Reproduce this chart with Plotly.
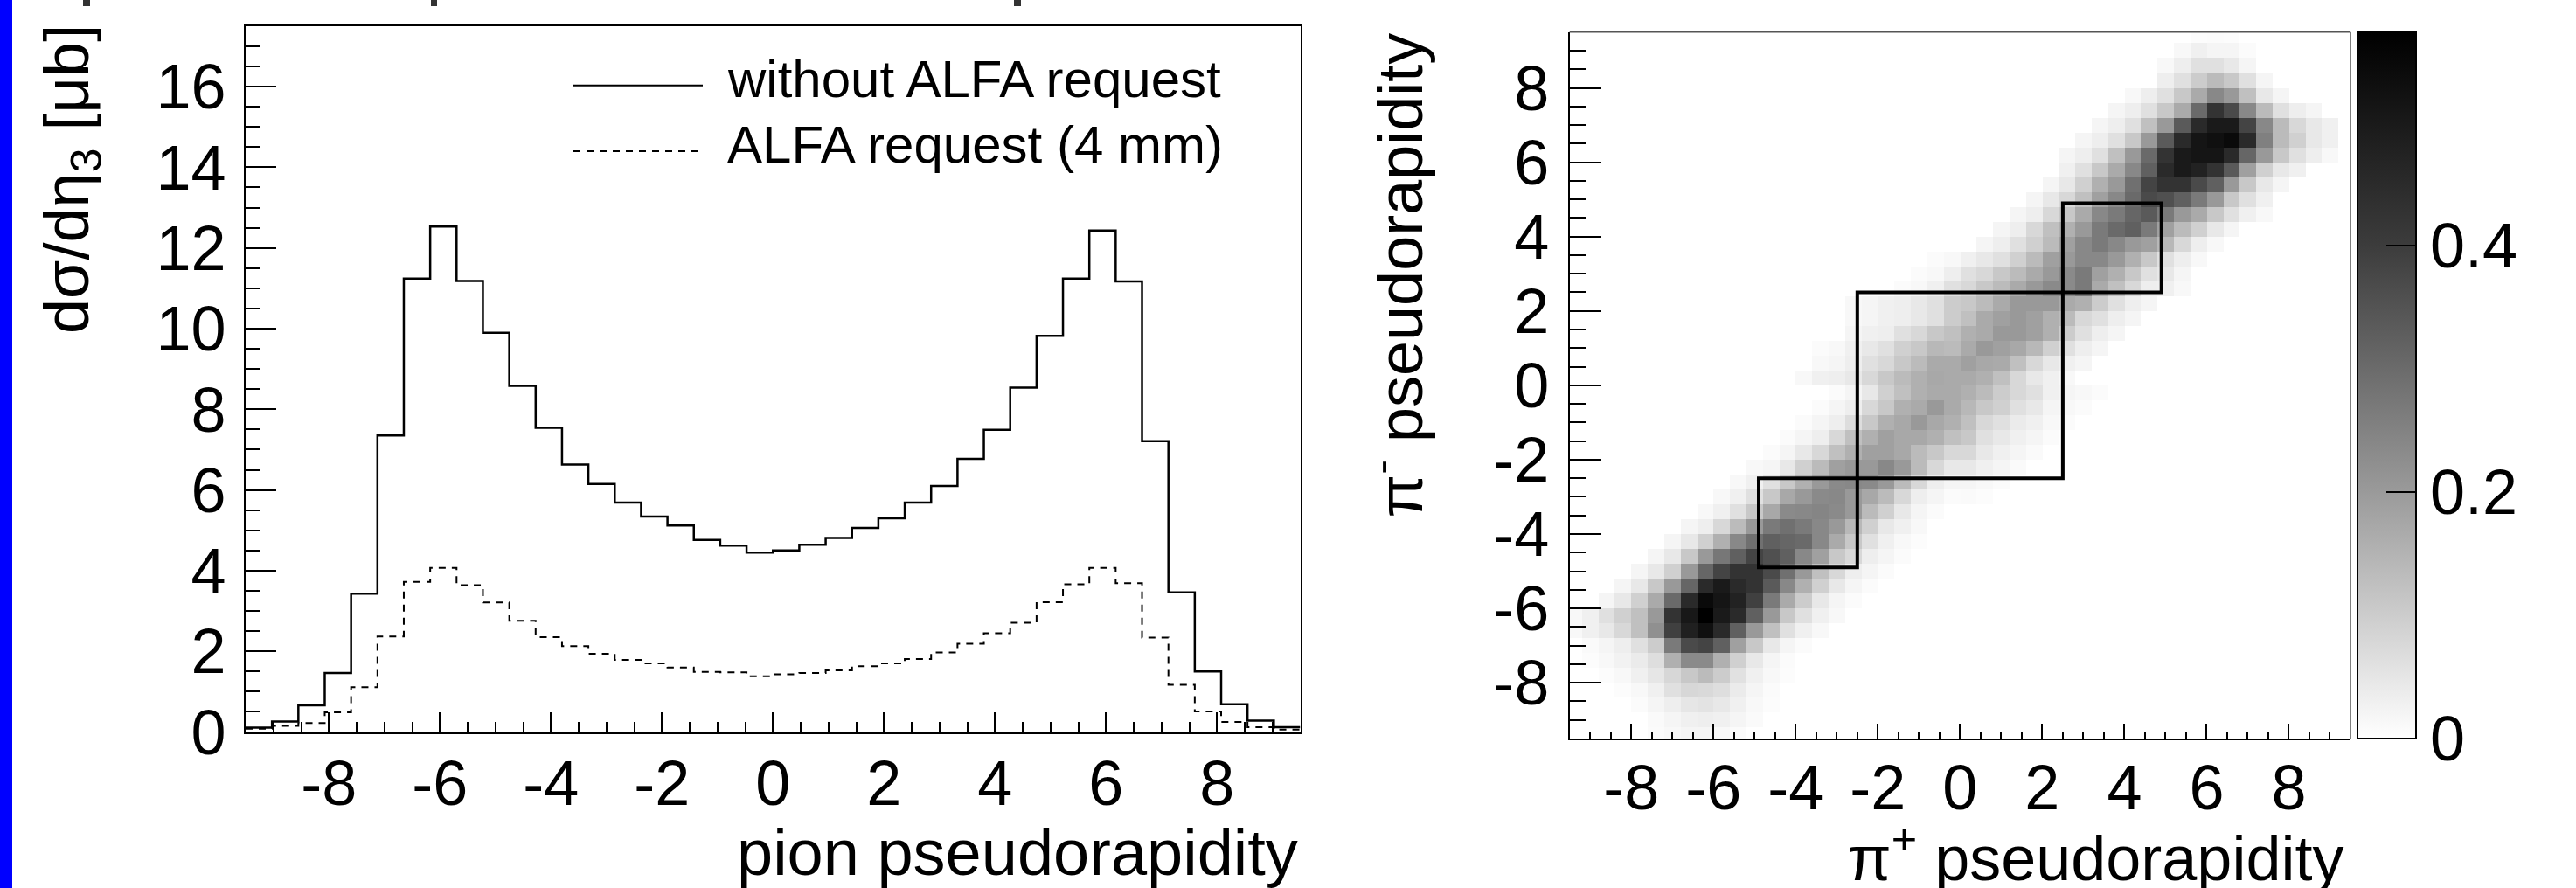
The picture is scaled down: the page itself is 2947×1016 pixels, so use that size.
import numpy as np
import plotly.graph_objects as go

W, H = 2947, 1016
FONT = "Liberation Sans, Arial, Helvetica, sans-serif"

# ---------------- left panel data: d(sigma)/d(eta) histograms ----------------
hist_edges = np.linspace(-9.5, 9.5, 41)          # 40 bins
xsec_without_alfa = [0.11, 0.26, 0.66, 1.46, 3.43, 7.35, 11.24, 12.53, 11.18, 9.90,
                     8.58, 7.54, 6.63, 6.15, 5.69, 5.34, 5.12, 4.76, 4.62, 4.45,
                     4.50, 4.64, 4.81, 5.06, 5.30, 5.69, 6.10, 6.77, 7.49, 8.54,
                     9.82, 11.24, 12.43, 11.17, 7.21, 3.46, 1.50, 0.69, 0.28, 0.12]
xsec_alfa_4mm = [0.08, 0.15, 0.22, 0.49, 1.11, 2.37, 3.72, 4.07, 3.64, 3.21,
                 2.76, 2.35, 2.13, 1.94, 1.79, 1.70, 1.60, 1.49, 1.48, 1.38,
                 1.43, 1.46, 1.53, 1.63, 1.70, 1.81, 1.97, 2.19, 2.45, 2.71,
                 3.22, 3.66, 4.07, 3.69, 2.34, 1.17, 0.51, 0.25, 0.12, 0.06]
legend_labels = ["without ALFA request", "ALFA request (4 mm)"]
x_ticks = [-8, -6, -4, -2, 0, 2, 4, 6, 8]
y_ticks_left = [0, 2, 4, 6, 8, 10, 12, 14, 16]

# ---------------- right panel data: 2D pi+ / pi- pseudorapidity ----------------
heat_edges = np.linspace(-9.6, 9.6, 49)          # 48 x 48 visible cells
# each row (pi- bin, bottom to top): (first pi+ bin index)
heat_rows = [
    (5, [0.008, 0.014, 0.02, 0.02, 0.014, 0.008]),
    (5, [0.01, 0.02, 0.03, 0.034, 0.03, 0.02, 0.01]),
    (4, [0.008, 0.02, 0.034, 0.05, 0.055, 0.046, 0.03, 0.014, 0.006]),
    (3, [0.006, 0.014, 0.03, 0.061, 0.08, 0.075, 0.065, 0.04, 0.02, 0.008]),
    (2, [0.006, 0.014, 0.03, 0.05, 0.08, 0.109, 0.135, 0.10, 0.06, 0.03, 0.014, 0.006]),
    (1, [0.006, 0.014, 0.025, 0.04, 0.065, 0.156, 0.234, 0.234, 0.156, 0.093, 0.046, 0.02, 0.008]),
    (1, [0.01, 0.02, 0.034, 0.061, 0.10, 0.268, 0.370, 0.383, 0.323, 0.188, 0.109, 0.046, 0.02, 0.008]),
    (0, [0.014, 0.03, 0.046, 0.077, 0.125, 0.221, 0.391, 0.481, 0.527, 0.452, 0.323, 0.202, 0.125, 0.061, 0.03, 0.014]),
    (0, [0.014, 0.03, 0.061, 0.093, 0.125, 0.202, 0.426, 0.504, 0.573, 0.498, 0.452, 0.323, 0.202, 0.109, 0.061, 0.03, 0.014]),
    (2, [0.02, 0.046, 0.093, 0.168, 0.302, 0.452, 0.544, 0.512, 0.475, 0.391, 0.268, 0.168, 0.10, 0.046, 0.02, 0.008]),
    (3, [0.02, 0.046, 0.109, 0.202, 0.311, 0.452, 0.498, 0.452, 0.426, 0.336, 0.238, 0.156, 0.093, 0.046, 0.02, 0.008]),
    (4, [0.02, 0.046, 0.093, 0.202, 0.311, 0.383, 0.426, 0.426, 0.370, 0.289, 0.202, 0.125, 0.077, 0.034, 0.02, 0.008]),
    (5, [0.02, 0.046, 0.109, 0.202, 0.274, 0.323, 0.383, 0.357, 0.323, 0.238, 0.188, 0.109, 0.077, 0.034, 0.02, 0.008]),
    (6, [0.02, 0.046, 0.093, 0.156, 0.238, 0.289, 0.323, 0.311, 0.302, 0.238, 0.168, 0.109, 0.061, 0.03, 0.014, 0.006]),
    (7, [0.02, 0.034, 0.077, 0.135, 0.202, 0.268, 0.289, 0.268, 0.238, 0.202, 0.141, 0.093, 0.046, 0.03, 0.014]),
    (8, [0.014, 0.03, 0.061, 0.109, 0.172, 0.234, 0.238, 0.245, 0.234, 0.202, 0.135, 0.093, 0.046, 0.02, 0.008]),
    (9, [0.014, 0.03, 0.061, 0.109, 0.172, 0.202, 0.234, 0.238, 0.202, 0.172, 0.135, 0.077, 0.034, 0.02, 0.008, 0.01, 0.006]),
    (10, [0.014, 0.03, 0.061, 0.109, 0.156, 0.202, 0.234, 0.238, 0.234, 0.202, 0.135, 0.077, 0.034, 0.02, 0.02, 0.014, 0.008]),
    (11, [0.014, 0.02, 0.046, 0.093, 0.135, 0.188, 0.202, 0.202, 0.238, 0.202, 0.135, 0.077, 0.046, 0.046, 0.03, 0.02, 0.01]),
    (12, [0.008, 0.02, 0.046, 0.077, 0.125, 0.156, 0.188, 0.188, 0.172, 0.135, 0.109, 0.077, 0.077, 0.046, 0.03, 0.02, 0.01]),
    (13, [0.008, 0.02, 0.034, 0.077, 0.125, 0.156, 0.188, 0.172, 0.172, 0.156, 0.125, 0.109, 0.061, 0.046, 0.03, 0.02, 0.008]),
    (14, [0.008, 0.02, 0.034, 0.067, 0.109, 0.156, 0.172, 0.202, 0.172, 0.156, 0.125, 0.077, 0.061, 0.04, 0.03, 0.014, 0.008]),
    (15, [0.008, 0.02, 0.034, 0.077, 0.109, 0.156, 0.168, 0.202, 0.168, 0.141, 0.109, 0.093, 0.061, 0.046, 0.02, 0.014, 0.008]),
    (16, [0.008, 0.02, 0.046, 0.093, 0.125, 0.156, 0.168, 0.168, 0.156, 0.135, 0.10, 0.077, 0.061, 0.03, 0.02, 0.014, 0.008]),
    (14, [0.014, 0.03, 0.034, 0.046, 0.077, 0.109, 0.135, 0.156, 0.172, 0.168, 0.168, 0.156, 0.125, 0.077, 0.046, 0.03, 0.014]),
    (15, [0.014, 0.02, 0.034, 0.061, 0.077, 0.109, 0.135, 0.168, 0.168, 0.188, 0.172, 0.168, 0.125, 0.077, 0.046, 0.03, 0.02]),
    (15, [0.008, 0.014, 0.03, 0.046, 0.061, 0.093, 0.109, 0.141, 0.135, 0.168, 0.202, 0.188, 0.172, 0.141, 0.093, 0.061, 0.034, 0.02]),
    (17, [0.02, 0.03, 0.034, 0.061, 0.077, 0.109, 0.125, 0.156, 0.168, 0.202, 0.202, 0.188, 0.156, 0.10, 0.061, 0.034, 0.02]),
    (17, [0.014, 0.02, 0.03, 0.034, 0.046, 0.061, 0.10, 0.125, 0.168, 0.188, 0.202, 0.188, 0.156, 0.135, 0.077, 0.061, 0.034, 0.02]),
    (17, [0.014, 0.02, 0.03, 0.034, 0.046, 0.061, 0.10, 0.109, 0.135, 0.168, 0.202, 0.202, 0.202, 0.168, 0.156, 0.10, 0.061, 0.034, 0.02]),
    (20, [0.008, 0.014, 0.03, 0.061, 0.077, 0.109, 0.135, 0.168, 0.202, 0.234, 0.234, 0.268, 0.168, 0.125, 0.077, 0.034, 0.03, 0.014]),
    (21, [0.008, 0.014, 0.034, 0.061, 0.077, 0.109, 0.135, 0.168, 0.202, 0.234, 0.268, 0.188, 0.156, 0.109, 0.061, 0.046, 0.02]),
    (22, [0.008, 0.014, 0.03, 0.046, 0.061, 0.093, 0.135, 0.188, 0.202, 0.238, 0.238, 0.202, 0.156, 0.109, 0.061, 0.034, 0.014]),
    (25, [0.02, 0.034, 0.061, 0.093, 0.135, 0.188, 0.238, 0.268, 0.238, 0.202, 0.188, 0.141, 0.077, 0.034, 0.014]),
    (26, [0.02, 0.034, 0.077, 0.125, 0.156, 0.202, 0.268, 0.302, 0.323, 0.268, 0.188, 0.135, 0.093, 0.046, 0.02]),
    (27, [0.02, 0.034, 0.077, 0.109, 0.168, 0.238, 0.268, 0.311, 0.336, 0.268, 0.202, 0.168, 0.109, 0.061, 0.03, 0.014]),
    (28, [0.02, 0.046, 0.077, 0.125, 0.188, 0.238, 0.302, 0.370, 0.357, 0.323, 0.268, 0.202, 0.109, 0.061, 0.03]),
    (29, [0.02, 0.046, 0.093, 0.156, 0.202, 0.289, 0.383, 0.426, 0.426, 0.370, 0.323, 0.202, 0.109, 0.046, 0.02]),
    (30, [0.03, 0.061, 0.109, 0.168, 0.238, 0.323, 0.452, 0.498, 0.475, 0.426, 0.336, 0.188, 0.093, 0.046, 0.03]),
    (30, [0.02, 0.034, 0.061, 0.125, 0.202, 0.302, 0.426, 0.498, 0.512, 0.512, 0.452, 0.311, 0.202, 0.109, 0.061, 0.034, 0.014]),
    (31, [0.02, 0.034, 0.061, 0.109, 0.202, 0.336, 0.452, 0.512, 0.527, 0.544, 0.452, 0.255, 0.135, 0.093, 0.046, 0.03]),
    (32, [0.02, 0.034, 0.061, 0.125, 0.202, 0.336, 0.452, 0.498, 0.498, 0.383, 0.238, 0.135, 0.077, 0.046, 0.03]),
    (33, [0.02, 0.034, 0.061, 0.109, 0.168, 0.302, 0.426, 0.370, 0.238, 0.135, 0.061, 0.034, 0.02]),
    (34, [0.014, 0.034, 0.061, 0.109, 0.168, 0.238, 0.202, 0.125, 0.046, 0.02]),
    (36, [0.034, 0.061, 0.10, 0.135, 0.109, 0.061, 0.02]),
    (36, [0.014, 0.034, 0.061, 0.061, 0.046, 0.02]),
    (37, [0.014, 0.03, 0.02, 0.02, 0.008]),
    (38, [0.006, 0.008, 0.006]),
]
acceptance_lo = [-4.9, -2.5, 2.5]      # detector regions drawn as squares
acceptance_hi = [-2.5, 2.5, 4.9]
z_max = 0.573
colorbar_ticks = [0, 0.2, 0.4]

# ---------------- build ----------------
n = len(heat_edges) - 1
Z = np.zeros((n, n))
for j, (start, vals) in enumerate(heat_rows):
    Z[j, start:start + len(vals)] = vals
centers = 0.5 * (heat_edges[:-1] + heat_edges[1:])


def px(x):
    return x / W


def py(y):
    return 1 - y / H


def tick_text(v):
    return str(v)


fig = go.Figure()

step_x = list(hist_edges)
fig.add_trace(go.Scatter(x=step_x, y=xsec_without_alfa + [xsec_without_alfa[-1]],
                         mode="lines", line=dict(shape="hv", color="black", width=2.5),
                         xaxis="x", yaxis="y", showlegend=False, name=legend_labels[0]))
fig.add_trace(go.Scatter(x=step_x, y=xsec_alfa_4mm + [xsec_alfa_4mm[-1]],
                         mode="lines", line=dict(shape="hv", color="black", width=2, dash="8px,7px"),
                         xaxis="x", yaxis="y", showlegend=False, name=legend_labels[1]))

gray_scale = [[0, "#ffffff"], [0.349, "#9a9a9a"], [0.698, "#3c3c3c"], [1, "#000000"]]
fig.add_trace(go.Heatmap(
    x=centers, y=centers, z=Z, zmin=0, zmax=z_max, colorscale=gray_scale, zsmooth=False,
    xaxis="x2", yaxis="y2",
    colorbar=dict(
        x=px(2697), xanchor="left", xref="paper", xpad=0,
        y=py(845), yanchor="bottom", yref="paper", ypad=0,
        len=(845 - 36.7) / H, lenmode="fraction",
        thickness=67, thicknessmode="pixels",
        outlinewidth=2, outlinecolor="black",
        tickmode="array", tickvals=colorbar_ticks, ticktext=[tick_text(v) for v in colorbar_ticks],
        ticks="inside", ticklen=35, tickwidth=2, tickcolor="black",
        tickfont=dict(size=72, family=FONT, color="black"),
    ),
))

# detector acceptance squares
for lo, hi in zip(acceptance_lo, acceptance_hi):
    fig.add_shape(type="rect", xref="x2", yref="y2", x0=lo, x1=hi, y0=lo, y1=hi,
                  line=dict(color="black", width=4), fillcolor="rgba(0,0,0,0)")

minor_vals = [v / 2 for v in range(-19, 20)]
axis_common = dict(showline=True, mirror=True, linecolor="black", linewidth=2, automargin=False,
                   showgrid=False, zeroline=False, ticks="inside", tickwidth=2, tickcolor="black",
                   tickfont=dict(size=72, family=FONT, color="black"), tickmode="array")

fig.update_layout(
    width=W, height=H, margin=dict(l=0, r=0, t=0, b=0, pad=0, autoexpand=False),
    paper_bgcolor="white", plot_bgcolor="white",
    font=dict(family=FONT, color="black"),
    xaxis=dict(axis_common, domain=[px(281), px(1487.5)], range=[-9.5, 9.5], anchor="y",
               tickvals=x_ticks, ticktext=[tick_text(v) for v in x_ticks], ticklen=23,
               ticklabelstandoff=-5,
               minor=dict(ticks="inside", ticklen=12, tickwidth=2, tickcolor="black",
                          tickmode="array", tickvals=minor_vals)),
    yaxis=dict(axis_common, domain=[py(837.5), py(29.9)], range=[0, 17.5], anchor="x",
               tickvals=y_ticks_left, ticktext=[tick_text(v) for v in y_ticks_left], ticklen=35,
               ticklabelstandoff=6,
               minor=dict(ticks="inside", ticklen=17, tickwidth=2, tickcolor="black",
                          tickmode="array", tickvals=[v / 2 for v in range(0, 36)])),
    xaxis2=dict(axis_common, domain=[px(1795.7), px(2689)], range=[-9.5, 9.5], anchor="y2",
                mirror=False,
                tickvals=x_ticks, ticktext=[tick_text(v) for v in x_ticks], ticklen=17,
                ticklabelstandoff=-7,
                minor=dict(ticks="inside", ticklen=8, tickwidth=2, tickcolor="black",
                           tickmode="array", tickvals=minor_vals)),
    yaxis2=dict(axis_common, domain=[py(845), py(36.7)], range=[-9.5, 9.5], anchor="x2",
                mirror=False,
                tickvals=x_ticks, ticktext=[tick_text(v) for v in x_ticks], ticklen=36,
                ticklabelstandoff=7,
                minor=dict(ticks="inside", ticklen=18, tickwidth=2, tickcolor="black",
                           tickmode="array", tickvals=minor_vals)),
)

# thin top / right frame of the 2D panel (ROOT frame)
fig.add_shape(type="line", xref="paper", yref="paper", x0=px(1795.7), x1=px(2689),
              y0=py(36.7), y1=py(36.7), line=dict(color="#555555", width=1.5))
fig.add_shape(type="line", xref="paper", yref="paper", x0=px(2689), x1=px(2689),
              y0=py(36.7), y1=py(845), line=dict(color="#555555", width=1.5))

# legend drawn ROOT-style
legend_y = [97.7, 173]
legend_dash = ["solid", "8px,7px"]
for lab, yy, dsh in zip(legend_labels, legend_y, legend_dash):
    fig.add_shape(type="line", xref="paper", yref="paper", x0=px(656), x1=px(804),
                  y0=py(yy), y1=py(yy), line=dict(color="black", width=2, dash=dsh))
    fig.add_annotation(text=lab, xref="paper", yref="paper", x=px(830), y=py(yy - 7),
                       xanchor="left", yanchor="middle", showarrow=False,
                       font=dict(size=60, family=FONT, color="black"))

# axis titles
fig.add_annotation(text="dσ/dη<sub>3</sub> [μb]", xref="paper", yref="paper",
                   x=px(82), y=py(26), xanchor="center", yanchor="top", textangle=-90,
                   showarrow=False, font=dict(size=72, family=FONT, color="black"))
fig.add_annotation(text="pion pseudorapidity", xref="paper", yref="paper",
                   x=px(1487), y=py(975), xanchor="right", yanchor="middle",
                   showarrow=False, font=dict(size=74, family=FONT, color="black"))
fig.add_annotation(text="π<sup>-</sup> pseudorapidity", xref="paper", yref="paper",
                   x=px(1596), y=py(36), xanchor="center", yanchor="top", textangle=-90,
                   showarrow=False, font=dict(size=72, family=FONT, color="black"))
fig.add_annotation(text="π<sup>+</sup> pseudorapidity", xref="paper", yref="paper",
                   x=px(2683), y=py(976), xanchor="right", yanchor="middle",
                   showarrow=False, font=dict(size=72, family=FONT, color="black"))

# slide decorations: blue side bar and clipped glyphs of the text above
fig.add_shape(type="rect", xref="paper", yref="paper", x0=0, x1=px(14), y0=0, y1=1,
              fillcolor="#0000ff", line=dict(width=0), layer="below")
for x0, x1 in [(95, 103), (493, 500), (1160, 1168)]:
    fig.add_shape(type="rect", xref="paper", yref="paper", x0=px(x0), x1=px(x1),
                  y0=py(7), y1=1, fillcolor="#333333", line=dict(width=0))

fig.write_html("out.html", config={"displayModeBar": False},
               post_script="document.body.style.margin='0px';document.body.style.overflow='hidden';")
